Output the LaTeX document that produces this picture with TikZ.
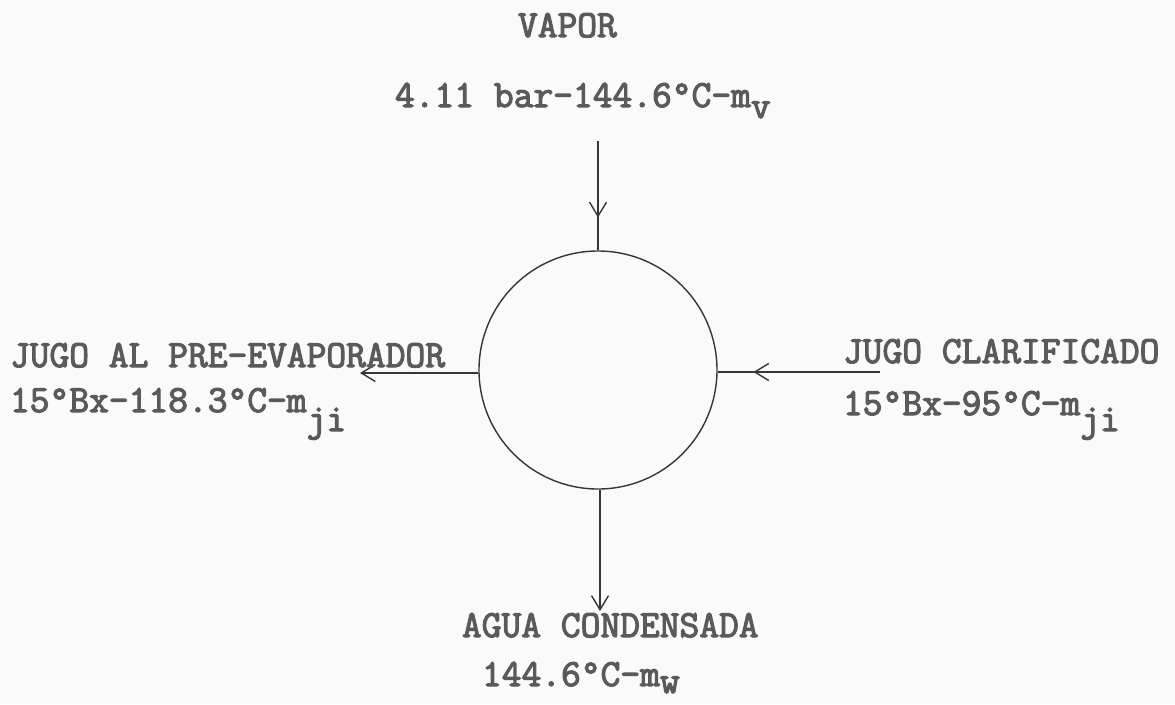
\documentclass[tikz,border=0pt]{standalone}
\usepackage{fontspec}
\newfontfamily\typew[FakeBold=3]{Latin Modern Mono}
\usetikzlibrary{arrows.meta,decorations.markings}
\definecolor{ink}{HTML}{5A5A5A}
\definecolor{lineink}{HTML}{363636}
\definecolor{paper}{HTML}{FAFAFA}
\begin{document}
\begin{tikzpicture}[x=1pt,y=-1pt,
  lbl/.style={anchor=base west,inner sep=0pt,outer sep=0pt,text=ink,
    font=\typew\fontsize{38.4}{44}\selectfont},
  flow/.style={draw=lineink,line width=1.4pt},
  barb/.style={-{Straight Barb[length=14pt,width=17pt,line width=1.4pt]}},
  midbarb/.style={postaction={decorate},decoration={markings,
    mark=at position #1 with {\arrow{Straight Barb[length=14pt,width=17pt,line width=1.4pt]}}}},
  vessel/.style={circle,draw=lineink,line width=1.4pt,minimum size=238pt,inner sep=0pt}]
\fill[paper] (0,0) rectangle (1175,704);
\useasboundingbox (0,0) rectangle (1175,704);

% vessel
\node[vessel] (c) at (598,370) {};

% free ends
\coordinate (vin) at (598,141);
\coordinate (win) at (600,611);
\coordinate (jout) at (360,373);
\coordinate (jin) at (880,372);

% connectors
\draw[flow,midbarb=0.70] (vin) -- (c.north);
\draw[flow,barb] (c.south -| win) -- (win);
\draw[flow,barb] (c.west |- jout) -- (jout);
\draw[flow,midbarb=0.78] (jin) -- (c.east |- jin);

% labels
\node[lbl] (vap) at (518,37) {VAPOR};
\node[lbl] (vapc) at (395,107) {4.11 bar-144.6°C-m\raisebox{-11pt}{v}};
\node[lbl] (jo) at (10,367) {JUGO AL PRE-EVAPORADOR};
\node[lbl] (joc) at (10,412) {15°Bx-118.3°C-m\raisebox{-19pt}{ji}};
\node[lbl] (ji) at (843,363) {JUGO CLARIFICADO};
\node[lbl] (jic) at (843,415) {15°Bx-95°C-m\raisebox{-16pt}{ji}};
\node[lbl] (ag) at (462,637) {AGUA CONDENSADA};
\node[lbl] (agc) at (482,686) {144.6°C-m\raisebox{-7pt}{w}};
\end{tikzpicture}
\end{document}
